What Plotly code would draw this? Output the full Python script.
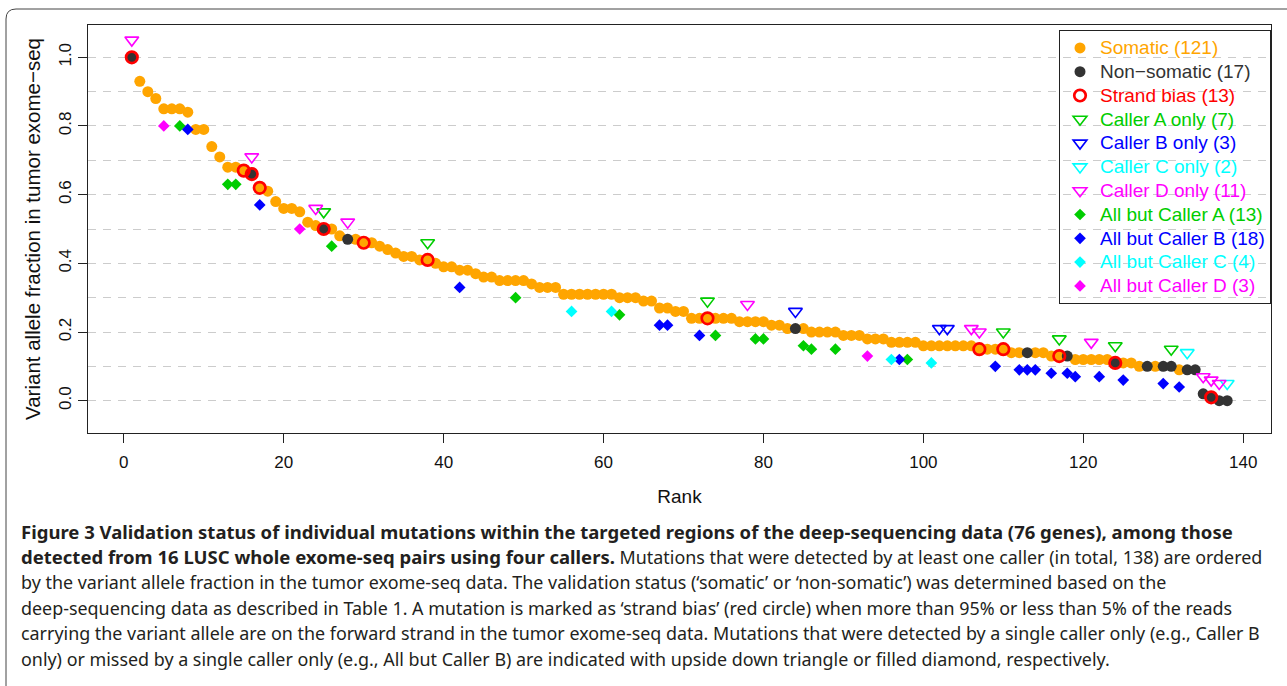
import plotly.graph_objects as go

# variant allele fraction for ranks 1..138
vaf = [
    1.00, 0.93, 0.90, 0.88, 0.85, 0.85, 0.85, 0.84, 0.79, 0.79,
    0.74, 0.71, 0.68, 0.68, 0.67, 0.66, 0.62, 0.61, 0.58, 0.56,
    0.56, 0.55, 0.52, 0.51, 0.50, 0.50, 0.48, 0.47, 0.47, 0.46,
    0.46, 0.45, 0.44, 0.43, 0.42, 0.42, 0.41, 0.41, 0.40, 0.39,
    0.39, 0.38, 0.38, 0.37, 0.36, 0.36, 0.35, 0.35, 0.35, 0.35,
    0.34, 0.33, 0.33, 0.33, 0.31, 0.31, 0.31, 0.31, 0.31, 0.31,
    0.31, 0.30, 0.30, 0.30, 0.29, 0.29, 0.27, 0.27, 0.26, 0.26,
    0.24, 0.24, 0.24, 0.24, 0.24, 0.24, 0.23, 0.23, 0.23, 0.23,
    0.22, 0.22, 0.21, 0.21, 0.21, 0.20, 0.20, 0.20, 0.20, 0.19,
    0.19, 0.19, 0.18, 0.18, 0.18, 0.17, 0.17, 0.17, 0.17, 0.16,
    0.16, 0.16, 0.16, 0.16, 0.16, 0.16, 0.15, 0.15, 0.15, 0.15,
    0.14, 0.14, 0.14, 0.14, 0.14, 0.13, 0.13, 0.13, 0.12, 0.12,
    0.12, 0.12, 0.12, 0.11, 0.11, 0.11, 0.10, 0.10, 0.10, 0.10,
    0.10, 0.09, 0.09, 0.09, 0.02, 0.01, 0.00, 0.00,
]
ranks = list(range(1, len(vaf) + 1))

non_somatic = [1, 16, 25, 28, 84, 113, 118, 124, 128, 130, 131, 133, 134, 135, 136, 137, 138]
strand_bias = [1, 15, 16, 17, 25, 30, 38, 73, 107, 110, 117, 124, 136]

a_only = [25, 38, 73, 110, 117, 124, 131]
b_only = [84, 102, 103]
c_only = [133, 138]
d_only = [1, 16, 24, 28, 78, 106, 107, 121, 135, 136, 137]

all_but_a = [7, 13, 14, 26, 49, 62, 74, 79, 80, 85, 86, 89, 98]
all_but_b = [8, 17, 42, 67, 68, 72, 97, 109, 112, 113, 114, 116, 118, 119, 122, 125, 130, 132]
all_but_c = [56, 61, 96, 101]
all_but_d = [5, 22, 93]

ORANGE = "#FFA500"
DARK = "#333333"
RED = "#FF0000"
GREEN = "#00CD00"
BLUE = "#0000FF"
CYAN = "#00FFFF"
MAGENTA = "#FF00FF"

TRI_OFF = 0.05    # triangles drawn above the point
DIA_OFF = -0.05   # diamonds drawn below the point


def val(r):
    return vaf[r - 1]


def lname(txt, col):
    # legend row height follows legend.font.size, the text itself is a bit bigger
    return f"<span style='color:{col};font-size:19px'>{txt}</span>"


fig = go.Figure()

somatic = [r for r in ranks if r not in non_somatic]
fig.add_trace(go.Scatter(x=somatic, y=[val(r) for r in somatic], mode="markers",
                         name=lname(f"Somatic ({len(somatic)})", ORANGE),
                         marker=dict(color=ORANGE, size=11, symbol="circle", line=dict(width=0))))
fig.add_trace(go.Scatter(x=non_somatic, y=[val(r) for r in non_somatic], mode="markers",
                         name=lname(f"Non\u2212somatic ({len(non_somatic)})", DARK),
                         marker=dict(color=DARK, size=11, symbol="circle", line=dict(width=0))))
fig.add_trace(go.Scatter(x=strand_bias, y=[val(r) for r in strand_bias], mode="markers",
                         name=lname(f"Strand bias ({len(strand_bias)})", RED),
                         marker=dict(color=RED, size=11.5, symbol="circle-open", line=dict(width=2.7, color=RED))))

for lst, lab, col in [(a_only, "Caller A only", GREEN), (b_only, "Caller B only", BLUE),
                      (c_only, "Caller C only", CYAN), (d_only, "Caller D only", MAGENTA)]:
    fig.add_trace(go.Scatter(x=lst, y=[val(r) + TRI_OFF for r in lst], mode="markers",
                             name=lname(f"{lab} ({len(lst)})", col),
                             marker=dict(color=col, size=12, symbol="triangle-down-open",
                                         line=dict(width=1.6, color=col))))

for lst, lab, col in [(all_but_a, "All but Caller A", GREEN), (all_but_b, "All but Caller B", BLUE),
                      (all_but_c, "All but Caller C", CYAN), (all_but_d, "All but Caller D", MAGENTA)]:
    fig.add_trace(go.Scatter(x=lst, y=[val(r) + DIA_OFF for r in lst], mode="markers",
                             name=lname(f"{lab} ({len(lst)})", col),
                             marker=dict(color=col, size=9, symbol="diamond", line=dict(width=0))))

W, H = 1287, 686
L, R, T, B = 88, 16, 25, 253
pw, ph = W - L - R, H - T - B


def px(x):
    return (x - L) / pw


def py(y):
    return (H - B - y) / ph


# outer rounded frame of the figure panel
rad = 10
frame = (f"M {px(6)},{py(720)} L {px(6)},{py(9 + rad)} "
         f"Q {px(6)},{py(9)} {px(6 + rad)},{py(9)} L {px(1320)},{py(9)}")
fig.add_shape(type="path", path=frame, xref="paper", yref="paper",
              line=dict(color="#444444", width=1))


def bold(s):
    return f"<b><span style='font-size:18.5px'>{s}</span></b>"


caption = [
    bold("Figure 3 Validation status of individual mutations within the targeted regions of the deep-sequencing data (76 genes), among those"),
    bold("detected from 16 LUSC whole exome-seq pairs using four callers.") + " Mutations that were detected by at least one caller (in total, 138) are ordered",
    "by the variant allele fraction in the tumor exome-seq data. The validation status (\u2018somatic\u2019 or \u2018non-somatic\u2019) was determined based on the",
    "deep-sequencing data as described in Table 1. A mutation is marked as \u2018strand bias\u2019 (red circle) when more than 95% or less than 5% of the reads",
    "carrying the variant allele are on the forward strand in the tumor exome-seq data. Mutations that were detected by a single caller only (e.g., Caller B",
    "only) or missed by a single caller only (e.g., All but Caller B) are indicated with upside down triangle or filled diamond, respectively.",
]
for i, line in enumerate(caption):
    fig.add_annotation(text=line, xref="paper", yref="paper", x=px(19), y=py(531 + 25.6 * i),
                       xanchor="left", yanchor="middle", showarrow=False, align="left",
                       font=dict(family="Noto Sans, Liberation Sans, sans-serif", size=17.9, color="#231F20"))

axis_font = dict(family="Liberation Sans, Arial, sans-serif", size=17, color="#111111")

fig.update_layout(
    width=W, height=H,
    margin=dict(l=L, r=R, t=T, b=B),
    paper_bgcolor="white", plot_bgcolor="white",
    showlegend=True,
    legend=dict(x=1, xanchor="right", y=py(30), yanchor="top",
                bgcolor="rgba(0,0,0,0)", bordercolor="#222222", borderwidth=1,
                font=dict(family="Liberation Sans, Arial, sans-serif", size=16),
                itemwidth=30, tracegroupgap=0),
    xaxis=dict(range=[-4.48, 143.48], tickvals=[0, 20, 40, 60, 80, 100, 120, 140],
               ticks="outside", ticklen=9, tickcolor="#222222", tickfont=axis_font,
               showline=True, linecolor="#222222", linewidth=1, mirror=True,
               showgrid=False, zeroline=False, ticklabelstandoff=5,
               title=dict(text="Rank", font=dict(family="Liberation Sans, Arial, sans-serif", size=19, color="#111111"),
                          standoff=18)),
    yaxis=dict(range=[-0.094, 1.094], tickvals=[0, 0.2, 0.4, 0.6, 0.8, 1.0],
               ticktext=["0.0", "0.2", "0.4", "0.6", "0.8", "1.0"], tickangle=-90,
               ticks="outside", ticklen=9, tickcolor="#222222", tickfont=axis_font,
               showline=True, linecolor="#222222", linewidth=1, mirror=True,
               showgrid=True, gridcolor="#CCCCCC", gridwidth=1.3, griddash="8px,7px",
               minor=dict(tickvals=[0.1, 0.3, 0.5, 0.7, 0.9], showgrid=True, gridcolor="#CCCCCC",
                          gridwidth=1.3, griddash="8px,7px", ticks=""),
               zeroline=False,
               title=dict(text="Variant allele fraction in tumor exome\u2212seq",
                          font=dict(family="Liberation Sans, Arial, sans-serif", size=20.5, color="#111111"),
                          standoff=10)),
)

fig.write_html("out.html", config={"displayModeBar": False},
               post_script="document.body.style.margin='0';")
